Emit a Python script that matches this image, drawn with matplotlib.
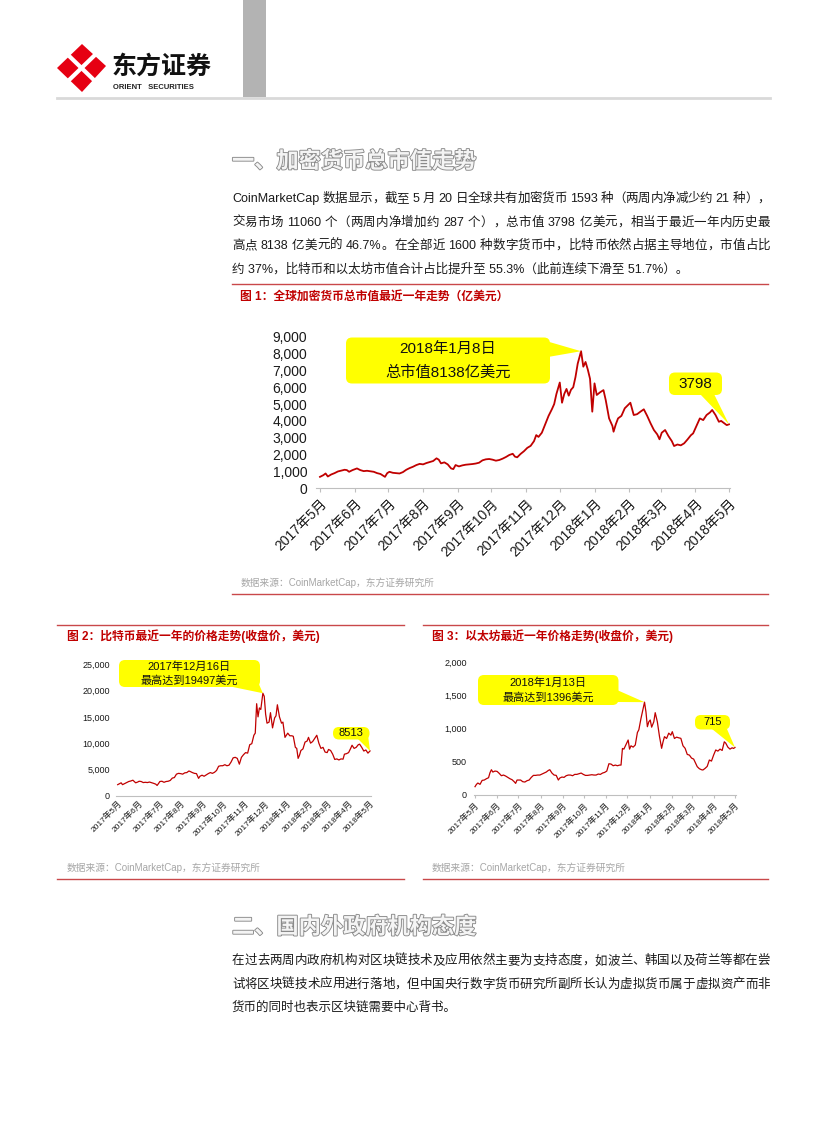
import re
import numpy as np
import pandas as pd
import matplotlib
matplotlib.use('Agg')
import matplotlib.pyplot as plt
import matplotlib.dates as mdates
import matplotlib.patheffects as pe
from matplotlib.patches import FancyBboxPatch, Polygon, Rectangle
from matplotlib.font_manager import FontProperties
from matplotlib.ticker import FuncFormatter

FAMILY = ['Liberation Sans', 'Noto Sans CJK SC']
plt.rcParams['font.family'] = FAMILY

# 总市值 (亿美元)
cap_dates = [
    '2017-05-20', '2017-05-23', '2017-05-25', '2017-05-27', '2017-05-30', '2017-06-02', '2017-06-05',
    '2017-06-08', '2017-06-11', '2017-06-13', '2017-06-15', '2017-06-18', '2017-06-21', '2017-06-22',
    '2017-06-25', '2017-06-28', '2017-07-01', '2017-07-04', '2017-07-07', '2017-07-10', '2017-07-13',
    '2017-07-16', '2017-07-17', '2017-07-19', '2017-07-21', '2017-07-24', '2017-07-27', '2017-07-30',
    '2017-08-02', '2017-08-05', '2017-08-08', '2017-08-11', '2017-08-14', '2017-08-17', '2017-08-20',
    '2017-08-23', '2017-08-26', '2017-08-29', '2017-09-01', '2017-09-03', '2017-09-05', '2017-09-08',
    '2017-09-11', '2017-09-14', '2017-09-16', '2017-09-18', '2017-09-21', '2017-09-24', '2017-09-27',
    '2017-09-30', '2017-10-03', '2017-10-06', '2017-10-09', '2017-10-12', '2017-10-15', '2017-10-18',
    '2017-10-21', '2017-10-24', '2017-10-27', '2017-10-30', '2017-11-02', '2017-11-05', '2017-11-08',
    '2017-11-10', '2017-11-12', '2017-11-15', '2017-11-18', '2017-11-21', '2017-11-24', '2017-11-27',
    '2017-11-29', '2017-12-01', '2017-12-04', '2017-12-07', '2017-12-10', '2017-12-13', '2017-12-15',
    '2017-12-17', '2017-12-20', '2017-12-22', '2017-12-24', '2017-12-26', '2017-12-28', '2017-12-30',
    '2018-01-01', '2018-01-03', '2018-01-05', '2018-01-07', '2018-01-08', '2018-01-10', '2018-01-12',
    '2018-01-14', '2018-01-16', '2018-01-18', '2018-01-20', '2018-01-22', '2018-01-25', '2018-01-28',
    '2018-01-30', '2018-02-02', '2018-02-05', '2018-02-06', '2018-02-08', '2018-02-10', '2018-02-13',
    '2018-02-16', '2018-02-19', '2018-02-21', '2018-02-24', '2018-02-27', '2018-03-02', '2018-03-05',
    '2018-03-08', '2018-03-11', '2018-03-14', '2018-03-17', '2018-03-19', '2018-03-21', '2018-03-24',
    '2018-03-27', '2018-03-30', '2018-04-01', '2018-04-04', '2018-04-07', '2018-04-10', '2018-04-13',
    '2018-04-16', '2018-04-18', '2018-04-21', '2018-04-24', '2018-04-27', '2018-04-30', '2018-05-03',
    '2018-05-05', '2018-05-08', '2018-05-11', '2018-05-13', '2018-05-16', '2018-05-18', '2018-05-20']
cap_values = [
    680, 780, 880, 700, 820, 900, 1000,
    1050, 1100, 1080, 980, 1080, 1150, 1180,
    1080, 1020, 1040, 1010, 980, 900, 850,
    720, 680, 900, 980, 920, 900, 880,
    960, 1100, 1200, 1280, 1380, 1450, 1420,
    1500, 1560, 1620, 1780, 1700, 1480, 1540,
    1420, 1180, 1140, 1380, 1300, 1360, 1400,
    1420, 1440, 1470, 1520, 1660, 1720, 1740,
    1700, 1640, 1680, 1760, 1860, 1980, 2050,
    1880, 1840, 2040, 2200, 2400, 2520, 2800,
    3160, 3050, 3300, 3800, 4300, 4700, 5000,
    5600, 6280, 5080, 5600, 5900, 5500, 5850,
    6000, 6600, 7400, 7900, 8138, 7220, 7500,
    7050, 6500, 4550, 6230, 5540, 5700, 5830,
    5240, 4150, 3700, 3360, 3800, 4150, 4300,
    4750, 4950, 5080, 4350, 4400, 4550, 4690,
    4300, 3860, 3460, 3200, 2910, 3300, 3460,
    3100, 2800, 2510, 2600, 2550, 2670, 2900,
    3150, 3260, 3700, 4150, 4050, 4350, 4500,
    4650, 4350, 3950, 4000, 3850, 3750, 3798]

# 比特币收盘价 (美元)
btc_dates = [
    '2017-05-20', '2017-05-23', '2017-05-25', '2017-05-27', '2017-05-30', '2017-06-02', '2017-06-05',
    '2017-06-08', '2017-06-11', '2017-06-13', '2017-06-15', '2017-06-18', '2017-06-20', '2017-06-23',
    '2017-06-26', '2017-06-29', '2017-07-02', '2017-07-05', '2017-07-08', '2017-07-11', '2017-07-14',
    '2017-07-16', '2017-07-18', '2017-07-20', '2017-07-23', '2017-07-26', '2017-07-29', '2017-08-01',
    '2017-08-04', '2017-08-07', '2017-08-10', '2017-08-13', '2017-08-16', '2017-08-19', '2017-08-22',
    '2017-08-25', '2017-08-28', '2017-08-31', '2017-09-02', '2017-09-05', '2017-09-08', '2017-09-11',
    '2017-09-14', '2017-09-16', '2017-09-19', '2017-09-22', '2017-09-25', '2017-09-28', '2017-10-01',
    '2017-10-04', '2017-10-07', '2017-10-10', '2017-10-13', '2017-10-16', '2017-10-19', '2017-10-22',
    '2017-10-25', '2017-10-28', '2017-10-31', '2017-11-03', '2017-11-06', '2017-11-09', '2017-11-12',
    '2017-11-15', '2017-11-18', '2017-11-21', '2017-11-24', '2017-11-27', '2017-11-30', '2017-12-03',
    '2017-12-05', '2017-12-07', '2017-12-09', '2017-12-11', '2017-12-13', '2017-12-16', '2017-12-18',
    '2017-12-20', '2017-12-22', '2017-12-25', '2017-12-27', '2017-12-30', '2018-01-02', '2018-01-04',
    '2018-01-06', '2018-01-09', '2018-01-12', '2018-01-14', '2018-01-17', '2018-01-19', '2018-01-21',
    '2018-01-24', '2018-01-27', '2018-01-29', '2018-02-01', '2018-02-03', '2018-02-05', '2018-02-07',
    '2018-02-09', '2018-02-12', '2018-02-15', '2018-02-18', '2018-02-20', '2018-02-23', '2018-02-26',
    '2018-03-01', '2018-03-04', '2018-03-07', '2018-03-10', '2018-03-13', '2018-03-16', '2018-03-19',
    '2018-03-21', '2018-03-24', '2018-03-27', '2018-03-30', '2018-04-02', '2018-04-05', '2018-04-08',
    '2018-04-11', '2018-04-13', '2018-04-16', '2018-04-19', '2018-04-22', '2018-04-24', '2018-04-27',
    '2018-04-30', '2018-05-03', '2018-05-05', '2018-05-08', '2018-05-11', '2018-05-14', '2018-05-17',
    '2018-05-20']
btc_values = [
    2100, 2300, 2450, 2100, 2300, 2500, 2700,
    2800, 2950, 2700, 2450, 2600, 2750, 2700,
    2500, 2550, 2500, 2600, 2480, 2350, 2200,
    1950, 2300, 2700, 2750, 2550, 2700, 2750,
    2900, 3350, 3450, 4100, 4250, 4200, 4100,
    4350, 4400, 4700, 4600, 4400, 4250, 4200,
    3300, 3700, 3900, 3700, 3950, 4200, 4400,
    4250, 4450, 4800, 5600, 5700, 5700, 5900,
    5700, 5800, 6400, 7200, 7300, 7100, 6000,
    7300, 7800, 8200, 8100, 9700, 9900, 11500,
    11900, 17500, 15000, 16700, 16400, 19497, 18900,
    15500, 13800, 14000, 15800, 12900, 14800, 15200,
    17300, 15000, 13800, 14000, 11100, 11500, 11900,
    11400, 11400, 11300, 9200, 9000, 7100, 7700,
    8600, 8900, 10200, 10400, 11100, 10000, 10300,
    10900, 11500, 10000, 9000, 9200, 8300, 8200,
    8800, 8600, 7900, 6900, 7000, 6800, 7000,
    6950, 7900, 8000, 8200, 9000, 9600, 9000,
    9200, 9700, 9800, 9200, 8500, 8700, 8100,
    8513]

# 以太坊收盘价 (美元)
eth_dates = [
    '2017-05-20', '2017-05-22', '2017-05-24', '2017-05-27', '2017-05-30', '2017-06-02', '2017-06-05',
    '2017-06-08', '2017-06-10', '2017-06-12', '2017-06-14', '2017-06-17', '2017-06-20', '2017-06-23',
    '2017-06-26', '2017-06-29', '2017-07-02', '2017-07-05', '2017-07-08', '2017-07-11', '2017-07-14',
    '2017-07-16', '2017-07-18', '2017-07-20', '2017-07-23', '2017-07-26', '2017-07-29', '2017-08-01',
    '2017-08-04', '2017-08-07', '2017-08-10', '2017-08-13', '2017-08-16', '2017-08-19', '2017-08-22',
    '2017-08-25', '2017-08-28', '2017-08-31', '2017-09-02', '2017-09-05', '2017-09-08', '2017-09-11',
    '2017-09-14', '2017-09-16', '2017-09-19', '2017-09-22', '2017-09-25', '2017-09-28', '2017-10-01',
    '2017-10-04', '2017-10-07', '2017-10-10', '2017-10-13', '2017-10-16', '2017-10-19', '2017-10-22',
    '2017-10-25', '2017-10-28', '2017-10-31', '2017-11-03', '2017-11-06', '2017-11-09', '2017-11-12',
    '2017-11-15', '2017-11-18', '2017-11-21', '2017-11-24', '2017-11-27', '2017-11-30', '2017-12-03',
    '2017-12-06', '2017-12-09', '2017-12-11', '2017-12-13', '2017-12-15', '2017-12-18', '2017-12-21',
    '2017-12-23', '2017-12-25', '2017-12-28', '2017-12-31', '2018-01-03', '2018-01-05', '2018-01-08',
    '2018-01-10', '2018-01-13', '2018-01-15', '2018-01-17', '2018-01-19', '2018-01-21', '2018-01-23',
    '2018-01-26', '2018-01-28', '2018-01-31', '2018-02-03', '2018-02-06', '2018-02-08', '2018-02-10',
    '2018-02-13', '2018-02-16', '2018-02-19', '2018-02-21', '2018-02-24', '2018-02-27', '2018-03-02',
    '2018-03-05', '2018-03-08', '2018-03-11', '2018-03-14', '2018-03-17', '2018-03-20', '2018-03-23',
    '2018-03-26', '2018-03-28', '2018-03-31', '2018-04-03', '2018-04-05', '2018-04-08', '2018-04-11',
    '2018-04-14', '2018-04-17', '2018-04-20', '2018-04-23', '2018-04-26', '2018-04-29', '2018-05-02',
    '2018-05-05', '2018-05-07', '2018-05-10', '2018-05-13', '2018-05-16', '2018-05-18', '2018-05-20']
eth_values = [
    125, 160, 180, 160, 220, 225, 245,
    260, 335, 380, 345, 360, 355, 325,
    290, 300, 285, 265, 245, 230, 200,
    175, 225, 225, 225, 200, 195, 215,
    225, 265, 295, 295, 300, 300, 315,
    330, 345, 370, 380, 330, 300, 295,
    225, 255, 270, 265, 290, 300, 300,
    290, 310, 310, 320, 330, 310, 295,
    295, 300, 305, 300, 300, 315, 310,
    330, 340, 360, 470, 465, 440, 450,
    440, 450, 450, 700, 690, 760, 827,
    690, 740, 720, 752, 940, 980, 1150,
    1250, 1396, 1250, 1027, 1100, 1128, 1020,
    1100, 1238, 1100, 880, 702, 800, 877,
    850, 930, 900, 952, 850, 870, 860,
    852, 740, 702, 610, 600, 555, 540,
    470, 426, 395, 380, 376, 400, 430,
    526, 510, 600, 677, 660, 690, 670,
    800, 780, 720, 690, 710, 700, 715]

para1 = [
    'CoinMarketCap 数据显示，截至 5 月 20 日全球共有加密货币 1593 种（两周内净减少约 21 种），',
    '交易市场 11060 个（两周内净增加约 287 个），总市值 3798 亿美元，相当于最近一年内历史最',
    '高点 8138 亿美元的 46.7%。在全部近 1600 种数字货币中，比特币依然占据主导地位，市值占比',
    '约 37%，比特币和以太坊市值合计占比提升至 55.3%（此前连续下滑至 51.7%）。',
]
para2 = [
    '在过去两周内政府机构对区块链技术及应用依然主要为支持态度，如波兰、韩国以及荷兰等都在尝',
    '试将区块链技术应用进行落地，但中国央行数字货币研究所副所长认为虚拟货币属于虚拟资产而非',
    '货币的同时也表示区块链需要中心背书。',
]

month_ticks = [pd.Timestamp('2017-05-20') + pd.DateOffset(months=i) for i in range(13)]
month_labels = [f'{d.year}年{d.month}月' for d in month_ticks]

RED = '#c00000'
SEP = '#c9484a'
W, H = 827, 1122
fig = plt.figure(figsize=(W / 100, H / 100), dpi=100)
page = fig.add_axes([0, 0, 1, 1])
page.set_xlim(0, W)
page.set_ylim(H, 0)
page.axis('off')
renderer = fig.canvas.get_renderer()


def rect(x0, y0, x1, y1):
    return [x0 / W, 1 - y1 / H, (x1 - x0) / W, (y1 - y0) / H]


def text_line(ax, x, y, s, size, right=None, color='#1a1a1a'):
    if right is None:
        ax.text(x, y, s, fontsize=size, color=color, va='center', ha='left')
        return
    # 两端对齐：按字符/单词分段后均匀补足间距
    tokens = re.findall(r'[A-Za-z0-9.%]+| |.', s)
    prop = FontProperties(family=FAMILY, size=size)
    widths = []
    for t in tokens:
        if t == ' ':
            widths.append(size * fig.dpi / 72 * 0.278)
        else:
            widths.append(renderer.get_text_width_height_descent(t, prop, ismath=False)[0])
    gap = (right - x - sum(widths)) / (len(tokens) - 1)
    cx = x
    for t, w in zip(tokens, widths):
        if t != ' ':
            ax.text(cx, y, t, fontsize=size, color=color, va='center', ha='left')
        cx += w + gap


# 页眉
page.add_patch(Rectangle((243, 0), 23, 97, color='#b3b3b3', lw=0))
page.plot([57, 770], [97.5, 97.5], color='#d9d9d9', lw=2)
page.add_patch(Polygon([(82, 44), (106, 66), (82, 92), (57, 68)], closed=True, fc='#e60012', ec='none'))
page.plot([66, 97], [53, 83], color='white', lw=3)
page.plot([97, 66], [53, 83], color='white', lw=3)
page.text(112, 67, '东方证券', fontsize=18, fontweight='bold', color='#111111', va='center', ha='left')
page.text(113, 87, 'ORIENT   SECURITIES', fontsize=5.5, fontweight='bold', color='#222222', va='center', ha='left')

# 一、加密货币总市值走势
outline = [pe.withStroke(linewidth=1.3, foreground='#8a8a8a')]
page.text(232, 162, '一、加密货币总市值走势', fontsize=16, fontweight='bold', color='#f4f4f4',
          va='center', ha='left', path_effects=outline)
for i, s in enumerate(para1):
    text_line(page, 232, 199 + i * 23.5, s, 9, right=770 if i < 3 else None)

page.plot([232, 768], [284, 284], color=SEP, lw=1)
page.text(240, 297, '图 1：全球加密货币总市值最近一年走势（亿美元）', fontsize=8.5, fontweight='bold',
          color=RED, va='center', ha='left')
page.text(241, 583, '数据来源：CoinMarketCap，东方证券研究所', fontsize=7, color='#a6a6a6', va='center', ha='left')
page.plot([232, 768], [594, 594], color=SEP, lw=1)

page.plot([57, 404], [625, 625], color=SEP, lw=1)
page.plot([423, 768], [625, 625], color=SEP, lw=1)
page.text(67, 636, '图 2：比特币最近一年的价格走势(收盘价，美元)', fontsize=8.5, fontweight='bold',
          color=RED, va='center', ha='left')
page.text(432, 636, '图 3：以太坊最近一年价格走势(收盘价，美元)', fontsize=8.5, fontweight='bold',
          color=RED, va='center', ha='left')
page.text(67, 868, '数据来源：CoinMarketCap，东方证券研究所', fontsize=7, color='#a6a6a6', va='center', ha='left')
page.text(432, 868, '数据来源：CoinMarketCap，东方证券研究所', fontsize=7, color='#a6a6a6', va='center', ha='left')
page.plot([57, 404], [879, 879], color=SEP, lw=1)
page.plot([423, 768], [879, 879], color=SEP, lw=1)

# 二、国内外政府机构态度
page.text(232, 928, '二、国内外政府机构态度', fontsize=16, fontweight='bold', color='#f4f4f4',
          va='center', ha='left', path_effects=outline)
for i, s in enumerate(para2):
    text_line(page, 232, 961 + i * 23.5, s, 9, right=770 if i < 2 else None)


def make_chart(box, dates, values, ymax, ystep, lw, ysize, xsize, ypad, xtick_len, pad_days):
    ax = fig.add_axes(rect(*box))
    ax.set_facecolor('none')
    d = pd.to_datetime(dates)
    ax.plot(d, values, color=RED, lw=lw)
    ax.set_xlim(d[0] - pd.Timedelta(days=pad_days[0]), d[-1] + pd.Timedelta(days=pad_days[1]))
    ax.set_ylim(0, ymax)
    ax.set_yticks(np.arange(0, ymax + 1, ystep))
    ax.yaxis.set_major_formatter(FuncFormatter(lambda v, p: f'{v:,.0f}'))
    ax.set_xticks(month_ticks)
    ax.set_xticklabels(month_labels, rotation=45, ha='right', va='top', rotation_mode='anchor', fontsize=xsize)
    for s in ['top', 'right', 'left']:
        ax.spines[s].set_visible(False)
    ax.spines['bottom'].set_color('#bfbfbf')
    ax.tick_params(axis='y', length=0, pad=ypad, labelsize=ysize, labelcolor='#1a1a1a')
    ax.tick_params(axis='x', length=xtick_len, color='#bfbfbf', pad=3, labelcolor='#1a1a1a')
    return ax, d


ax1, d1 = make_chart((315.5, 336.7, 730.1, 488.3), cap_dates, cap_values, 9000, 1000,
                     1.3, 10, 10, 6, 3, (4, 1))
ax2, d2 = make_chart((116.3, 664.3, 371.4, 795.7), btc_dates, btc_values, 25000, 5000,
                     0.9, 6.5, 6, 4.5, 0, (2, 2))
ax3, d3 = make_chart((473.6, 662, 736.4, 795), eth_dates, eth_values, 2000, 500,
                     0.9, 6.5, 6, 4.7, 2, (2, 2))

top = fig.add_axes([0, 0, 1, 1])
top.set_xlim(0, W)
top.set_ylim(H, 0)
top.axis('off')
top.set_facecolor('none')


def callout(ax, d, values, idx, box, base, lines, size):
    disp = ax.transData.transform((mdates.date2num(d[idx]), values[idx]))
    tx, ty = top.transData.inverted().transform(disp)
    x0, y0, x1, y1 = box
    top.add_patch(Polygon([base[0], (tx, ty), base[1]], closed=True, fc='#ffff00', ec='none'))
    top.add_patch(FancyBboxPatch((x0, y0), x1 - x0, y1 - y0, boxstyle='round,pad=0,rounding_size=6',
                                 fc='#ffff00', ec='none'))
    n = len(lines)
    for k, s in enumerate(lines):
        yy = y0 + (y1 - y0) * (k + 0.5) / n
        top.text((x0 + x1) / 2, yy, s, fontsize=size, color='#111111', ha='center', va='center')


i1 = int(np.argmax(cap_values))
callout(ax1, d1, cap_values, i1, (346, 337.5, 550, 383.5), [(546, 341), (548, 357)],
        ['2018年1月8日', '总市值8138亿美元'], 11)
callout(ax1, d1, cap_values, len(cap_values) - 1, (669, 372.5, 722, 395), [(700, 394), (714, 394)],
        ['3798'], 11)
i2 = int(np.argmax(btc_values))
callout(ax2, d2, btc_values, i2, (119, 660, 260, 687), [(228, 686), (258, 682)],
        ['2017年12月16日', '最高达到19497美元'], 8)
callout(ax2, d2, btc_values, len(btc_values) - 1, (333, 727, 369.5, 739.5), [(358, 739), (368, 735)],
        ['8513'], 8)
i3 = int(np.argmax(eth_values))
callout(ax3, d3, eth_values, i3, (478, 675, 618.5, 705), [(617, 690), (617, 702)],
        ['2018年1月13日', '最高达到1396美元'], 8)
callout(ax3, d3, eth_values, len(eth_values) - 1, (695, 715, 730, 729.5), [(712, 729), (727, 729)],
        ['715'], 8)

fig.savefig('out.png', dpi=100)
